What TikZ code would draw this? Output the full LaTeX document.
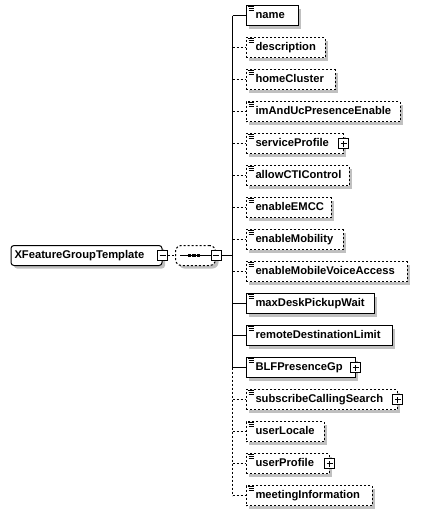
\documentclass[tikz,border=0pt]{standalone}
\usepackage{fontspec}
\setmainfont{Liberation Sans}
\usetikzlibrary{positioning, shadows}
\hyphenpenalty=10000
\definecolor{shadowgray}{RGB}{192,192,192}

\tikzset{
    boxshadow/.style={general shadow={fill=shadowgray, shadow xshift=3pt, shadow yshift=-3pt}},
    opt/.style={dash pattern=on 2pt off 2pt},
    elem/.style={draw, fill=white, anchor=west, minimum height=20pt, inner xsep=9.5pt, inner ysep=0pt,
        text width=#1, text height=8pt, text depth=2.5pt, boxshadow,
        font=\bfseries\fontsize{11.2}{13}\selectfont,
        path picture={\draw[solid]
            ([xshift=1.5pt, yshift=-1pt]path picture bounding box.north west) -- +(6.5pt,0)
            ([xshift=2.5pt, yshift=-3pt]path picture bounding box.north west) -- +(5.5pt,0)
            ([xshift=2.5pt, yshift=-5pt]path picture bounding box.north west) -- +(5.5pt,0);}},
    minusbox/.style={draw, solid, fill=white, minimum size=10pt, inner sep=0pt,
        path picture={\draw ([xshift=-3pt]path picture bounding box.center) -- ([xshift=3pt]path picture bounding box.center);}},
    plusbox/.style={minusbox,
        path picture={\draw ([xshift=-3pt]path picture bounding box.center) -- ([xshift=3pt]path picture bounding box.center)
            ([yshift=-3pt]path picture bounding box.center) -- ([yshift=3pt]path picture bounding box.center);}},
    seqdot/.style={fill, minimum size=3.5pt, inner sep=0pt}
}

\begin{document}
\begin{tikzpicture}[x=1pt, y=-1pt, line width=1pt, node distance=32pt, on grid]
    \useasboundingbox (0,0) rectangle (421,514);

    % root element and sequence
    \node[draw, fill=white, rounded corners=3pt, anchor=west, minimum height=20pt, inner xsep=3.5pt, inner ysep=0pt,
        text width=144pt, text height=8pt, text depth=2.5pt, boxshadow,
        font=\bfseries\fontsize{11.2}{13}\selectfont] (xfgt) at (10.5,255.5) {XFeatureGroupTemplate};
    \node[minusbox] (xfgt-x) at (xfgt.east) {};
    \node[draw, opt, fill=white, rounded corners=6pt, minimum width=40pt, minimum height=20pt, boxshadow]
        (seq) at (195.5,255.5) {};
    \node[minusbox] (seq-x) at (seq.east) {};
    \draw ([xshift=5pt]seq.west) -- (seq-x.west);
    \foreach \dx [count=\i] in {-6,-1.5,3}
        \node[seqdot] (seq-d\i) at ([xshift=\dx pt]seq.center) {};
    \coordinate (spine) at (232.5,255.5);

    % children
    \node[elem=33pt]  (nm)    at (245.5,15.5) {name};
    \node[elem=60pt, opt]  (desc)  [below=of nm.west, anchor=west]    {description};
    \node[elem=70pt, opt]  (home)  [below=of desc.west, anchor=west]  {homeCluster};
    \node[elem=135pt, opt] (imuc)  [below=of home.west, anchor=west]  {imAndUcPresenceEnable};
    \node[elem=78pt, opt]  (svcp)  [below=of imuc.west, anchor=west]  {serviceProfile};
    \node[elem=84pt, opt]  (acti)  [below=of svcp.west, anchor=west]  {allowCTIControl};
    \node[elem=66pt, opt]  (emcc)  [below=of acti.west, anchor=west]  {enableEMCC};
    \node[elem=78pt, opt]  (emob)  [below=of emcc.west, anchor=west]  {enableMobility};
    \node[elem=142pt, opt] (emva)  [below=of emob.west, anchor=west]  {enableMobileVoiceAccess};
    \node[elem=109pt]      (mdpw)  [below=of emva.west, anchor=west]  {maxDeskPickupWait};
    \node[elem=127pt]      (rdl)   [below=of mdpw.west, anchor=west]  {remoteDestinationLimit};
    \node[elem=90pt]       (blf)   [below=of rdl.west, anchor=west]   {BLFPresenceGp};
    \node[elem=132pt, opt] (scs)   [below=of blf.west, anchor=west]   {subscribeCallingSearch};
    \node[elem=59pt, opt]  (uloc)  [below=of scs.west, anchor=west]   {userLocale};
    \node[elem=64pt, opt]  (uprof) [below=of uloc.west, anchor=west]  {userProfile};
    \node[elem=107pt, opt] (meet)  [below=of uprof.west, anchor=west] {meetingInformation};

    % expand boxes
    \foreach \n in {svcp, blf, scs, uprof}
        \node[plusbox] (\n-x) at (\n.east) {};

    % connectors
    \draw[opt] (xfgt-x) -- (seq);
    \draw (seq-x) -- (seq-x -| spine);
    \draw (spine |- nm.west) -- (spine |- blf.west);
    \draw[opt] (spine |- blf.west) -- (spine |- meet.west);
    \foreach \n in {nm, mdpw, rdl, blf}
        \draw (spine |- \n.west) -- (\n.west);
    \foreach \n in {desc, home, imuc, svcp, acti, emcc, emob, emva, scs, uloc, uprof, meet}
        \draw[opt] (spine |- \n.west) -- (\n.west);
\end{tikzpicture}
\end{document}
